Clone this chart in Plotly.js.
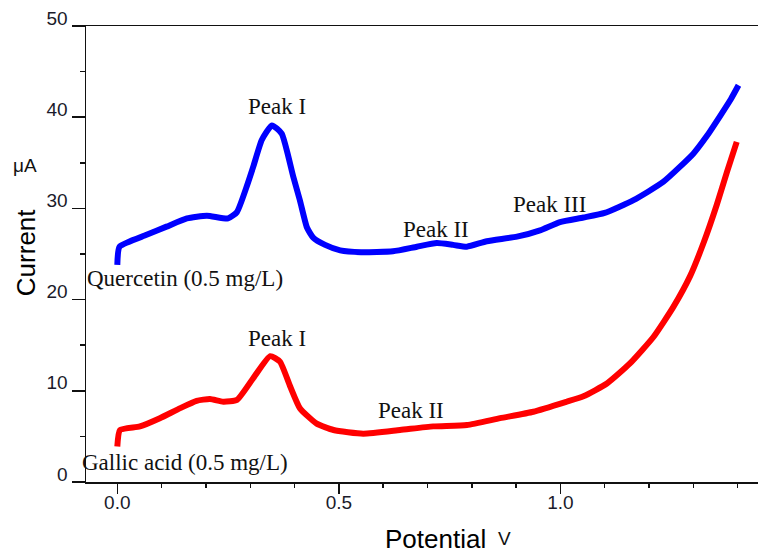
<!DOCTYPE html>
<html>
<head>
<meta charset="utf-8">
<script src="https://cdn.plot.ly/plotly-3.0.1.min.js"></script>
<style>html,body{margin:0;padding:0;background:#fff;}#chart{width:758px;height:554px;}</style>
</head>
<body>
<div id="chart"></div>
<script>
// Quercetin (0.5 mg/L) — blue curve
const quercetinPotential = [0.0, 0.005, 0.066, 0.111, 0.157, 0.202, 0.25, 0.27, 0.292, 0.307, 0.326, 0.349, 0.371, 0.397, 0.412, 0.428, 0.442, 0.469, 0.503, 0.55, 0.622, 0.676, 0.721, 0.758, 0.789, 0.834, 0.902, 0.954, 0.999, 1.052, 1.10, 1.165, 1.232, 1.30, 1.33, 1.36, 1.385, 1.402];
const quercetinCurrent   = [23.8, 25.8, 27.1, 28.0, 28.9, 29.2, 28.9, 29.6, 32.4, 34.6, 37.5, 39.1, 38.2, 33.5, 30.9, 27.9, 26.8, 26.0, 25.4, 25.2, 25.3, 25.8, 26.2, 26.0, 25.8, 26.4, 26.9, 27.6, 28.5, 29.0, 29.5, 30.9, 32.9, 36.0, 37.9, 40.1, 42.0, 43.5];

// Gallic acid (0.5 mg/L) — red curve
const gallicPotential = [0.0, 0.006, 0.051, 0.096, 0.142, 0.179, 0.209, 0.239, 0.27, 0.307, 0.345, 0.367, 0.39, 0.412, 0.45, 0.488, 0.555, 0.638, 0.713, 0.789, 0.864, 0.939, 1.014, 1.052, 1.105, 1.157, 1.21, 1.255, 1.293, 1.323, 1.353, 1.376, 1.398];
const gallicCurrent   = [3.9, 5.7, 6.1, 7.0, 8.1, 8.9, 9.1, 8.8, 9.0, 11.4, 13.8, 13.2, 10.5, 8.1, 6.4, 5.7, 5.3, 5.7, 6.1, 6.25, 7.0, 7.7, 8.8, 9.4, 10.8, 13.0, 15.9, 19.2, 22.6, 26.2, 30.4, 34.0, 37.3];

// Curve labels (text, x, y in data units)
const labelTexts = ["Peak I", "Quercetin (0.5 mg/L)", "Peak II", "Peak III", "Peak I", "Gallic acid (0.5 mg/L)", "Peak II"];
const labelX     = [0.360, 0.153, 0.719, 0.975, 0.360, 0.153, 0.663];
const labelY     = [41.2, 22.3, 27.7, 30.4, 15.7, 2.1, 7.8];

const xTickVals = [0, 0.5, 1.0];
const xTickText = ["0.0", "0.5", "1.0"];

const serif = "Liberation Serif, Times New Roman, serif";
const sans = "Liberation Sans, Arial, sans-serif";

const traces = [
  {x: quercetinPotential, y: quercetinCurrent, mode: "lines", type: "scatter",
   line: {color: "#0000ff", width: 6, shape: "spline", smoothing: 0.5}, hoverinfo: "skip"},
  {x: gallicPotential, y: gallicCurrent, mode: "lines", type: "scatter",
   line: {color: "#ff0000", width: 6, shape: "spline", smoothing: 0.5}, hoverinfo: "skip"}
];

const annotations = labelTexts.map((t, i) => ({
  text: t, x: labelX[i], y: labelY[i], xref: "x", yref: "y", showarrow: false,
  font: {family: serif, size: 23, color: "#111"}, xanchor: "center", yanchor: "middle"
}));
annotations.push(
  {text: "Current", xref: "paper", yref: "paper", x: -0.0893, y: 0.504, textangle: -90, showarrow: false,
   font: {family: sans, size: 26, color: "#000"}, xanchor: "center", yanchor: "middle"},
  {text: "μA", xref: "paper", yref: "paper", x: -0.0908, y: 0.695, showarrow: false,
   font: {family: sans, size: 19, color: "#111"}, xanchor: "center", yanchor: "middle"},
  {text: "Potential", xref: "paper", yref: "paper", x: 0.520, y: -0.125, showarrow: false,
   font: {family: sans, size: 26, color: "#000"}, xanchor: "center", yanchor: "middle"},
  {text: "V", xref: "paper", yref: "paper", x: 0.6235, y: -0.123, showarrow: false,
   font: {family: sans, size: 19, color: "#111"}, xanchor: "center", yanchor: "middle"}
);

const layout = {
  width: 758, height: 554,
  margin: {l: 86, r: 0, t: 26, b: 72, pad: 0},
  paper_bgcolor: "#fff", plot_bgcolor: "#fff",
  showlegend: false,
  xaxis: {
    range: [-0.0707, 1.446], tickmode: "array", tickvals: xTickVals, ticktext: xTickText,
    ticks: "outside", ticklen: 10, tickwidth: 1.5, tickcolor: "#111",
    minor: {dtick: 0.1, tick0: 0, ticks: "outside", ticklen: 4, tickwidth: 1.5, tickcolor: "#111"},
    showline: true, linecolor: "#111", linewidth: 1.5, mirror: true,
    showgrid: false, zeroline: false,
    tickfont: {family: sans, size: 19, color: "#1a1a2a"}, ticklabelstandoff: -7
  },
  yaxis: {
    range: [0, 50], dtick: 10, tick0: 0,
    ticks: "outside", ticklen: 13, tickwidth: 1.5, tickcolor: "#111",
    minor: {dtick: 5, tick0: 0, ticks: "outside", ticklen: 5, tickwidth: 1.5, tickcolor: "#111"},
    showline: true, linecolor: "#111", linewidth: 1.5, mirror: false,
    showgrid: false, zeroline: false,
    tickfont: {family: sans, size: 19, color: "#1a1a2a"}, ticklabelstandoff: 0, ticklabelshift: -8
  },
  annotations: annotations
};

Plotly.newPlot("chart", traces, layout, {staticPlot: true, displayModeBar: false});
</script>
</body>
</html>
